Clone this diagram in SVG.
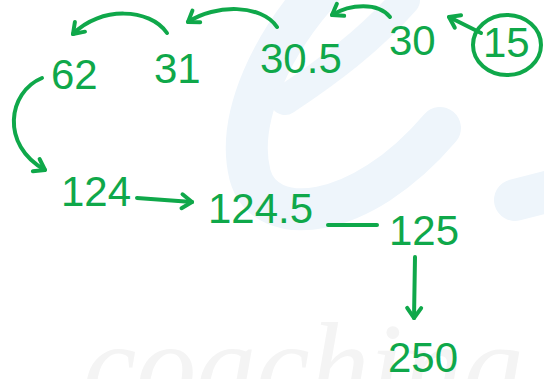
<svg xmlns="http://www.w3.org/2000/svg" width="544" height="379" viewBox="0 0 544 379">
<style>
.num{font-family:"Liberation Sans","Open Sans",sans-serif;font-size:42px;fill:#0fa84a;}
.con{fill:none;stroke:#0fa84a;stroke-width:4;stroke-linecap:round;stroke-linejoin:round;}
.wm{fill:none;stroke:#eef5fb;stroke-linecap:round;}
</style>
<defs>
<marker id="ah" markerUnits="userSpaceOnUse" viewBox="-14 -10 18 20" markerWidth="18" markerHeight="20" refX="0" refY="0" orient="auto" overflow="visible">
<path d="M-10,-7 L0,0 L-10,7" fill="none" stroke="#0fa84a" stroke-width="4" stroke-linecap="round" stroke-linejoin="round"/>
</marker>
</defs>
<rect width="544" height="379" fill="#ffffff"/>
<g id="watermark">
<path class="wm" stroke-width="42" d="M335,-25 C270,40 236,120 250,175 C265,230 360,222 440,128"/>
<path class="wm" stroke-width="30" d="M285,100 C330,70 370,40 405,0"/>
<path class="wm" stroke-width="42" d="M515,200 L570,186"/>
<text x="83" y="406" font-family="Liberation Serif, serif" font-style="italic" font-size="120" fill="#f4f4f4">coaching</text>
</g>
<g id="connectors">
<path class="con" marker-end="url(#ah)" d="M167,33 C150,8 100,6 73,34"/>
<path class="con" marker-end="url(#ah)" d="M277,27 C262,4 215,4 188,22"/>
<path class="con" marker-end="url(#ah)" d="M390,17 C378,2 350,4 332,15"/>
<path class="con" marker-end="url(#ah)" d="M481,33 L449,17"/>
<path class="con" marker-end="url(#ah)" d="M42,78 C8,92 0,145 45,170"/>
<path class="con" marker-end="url(#ah)" d="M137,198 L192,202"/>
<path class="con" d="M328,225 L377,225"/>
<path class="con" marker-end="url(#ah)" d="M415,257 L414,318"/>
</g>
<g id="n15">
<ellipse cx="507" cy="45" rx="34" ry="30" class="con"/>
<text class="num" x="483" y="57">15</text>
</g>
<g id="n30"><text class="num" x="389" y="55">30</text></g>
<g id="n30_5"><text class="num" x="260" y="73">30.5</text></g>
<g id="n31"><text class="num" x="154" y="83">31</text></g>
<g id="n62"><text class="num" x="51" y="89">62</text></g>
<g id="n124"><text class="num" x="61" y="206">124</text></g>
<g id="n124_5"><text class="num" x="208" y="223">124.5</text></g>
<g id="n125"><text class="num" x="389" y="245">125</text></g>
<g id="n250"><text class="num" x="388" y="372" font-size="46">250</text></g>
</svg>
